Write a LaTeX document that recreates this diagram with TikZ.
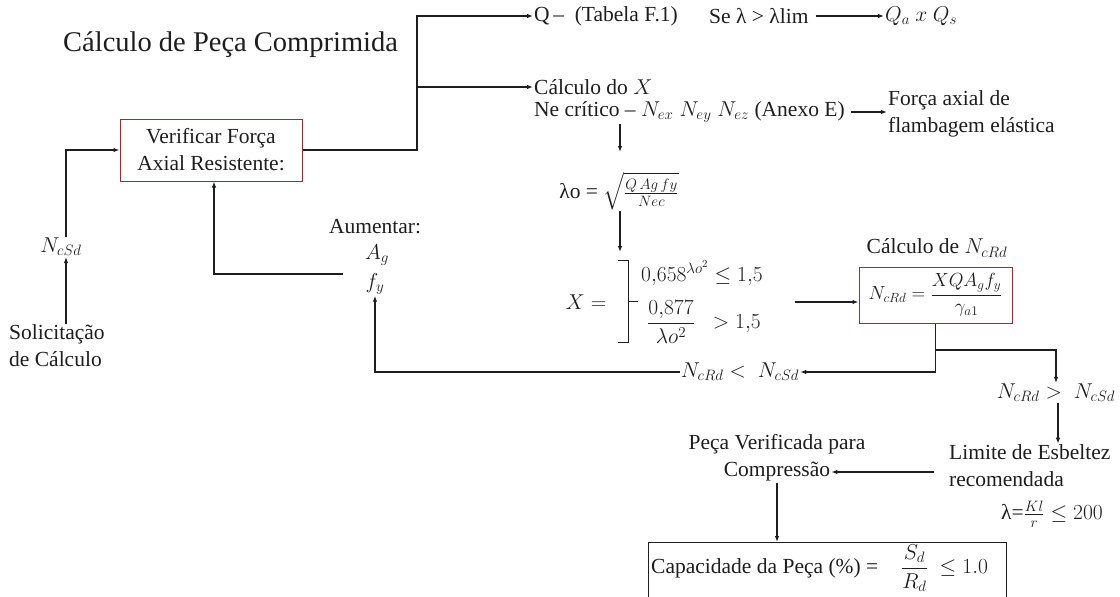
\documentclass[tikz,border=0pt]{standalone}
\usepackage{fix-cm}
\usepackage{amsmath}
\usepackage{fontspec}
\setmainfont{Liberation Serif}
\usetikzlibrary{arrows.meta,calc}
\definecolor{boxred}{RGB}{165,40,45}
\definecolor{ink}{RGB}{30,30,30}
\newcommand{\bodyfont}{\fontsize{21.5}{27}\selectfont}
\begin{document}
\begin{tikzpicture}[x=1pt,y=-1pt,
  txt/.style={inner sep=1pt,font=\bodyfont,align=center,text=ink},
  arr/.style={draw=ink,line width=1.1pt,-{Latex[length=6pt,width=4.5pt]}},
  ln/.style={draw=ink,line width=1.1pt},
  redbox/.style={txt,draw=boxred,line width=1pt},
]
\path[use as bounding box] (0,0) rectangle (1120,597);
\clip (0,0) rectangle (1120,597);
\fill[white] (0,0) rectangle (1120,597);

% nodes
\node[txt,anchor=west,font=\fontsize{28.5}{34}\selectfont] (title) at (62,45) {Cálculo de Peça Comprimida};
\node[redbox,minimum width=182pt,minimum height=62pt] (verif) at (211,150) {Verificar Força\\Axial Resistente:};
\node[txt] (ncsd) at (61,247) {$N_{cSd}$};
\node[txt,align=left,anchor=west] (solic) at (8,346) {Solicitação\\de Cálculo};
\node[txt] (aum) at (375,227) {Aumentar:};
\node[txt] (ag) at (377,255) {$A_g$};
\node[txt] (fy) at (375,284) {$f_y$};
\coordinate (aumin) at (343,274);

\node[txt,anchor=west] (q) at (533,16) {Q\,–\ \ (Tabela F.1)};
\node[txt,anchor=west] (se) at (708,16) {Se λ > λlim};
\node[txt,anchor=west] (qa) at (884,16) {$Q_a\ x\ Q_s$};
\node[txt,anchor=west] (calcx) at (533,87) {Cálculo do $X$};
\node[txt,anchor=west] (necrit) at (533,112) {Ne crítico – $N_{ex}\;N_{ey}\;N_{ez}$ (Anexo E)};
\node[txt,anchor=west,align=left] (forca) at (887,114) {Força axial de\\flambagem elástica};
\coordinate (jx) at (417,150);

\node[txt] (lam) at (619,191) {λo = $\sqrt{\frac{Q\,Ag\,fy}{Nec}}$};
\coordinate (lamtop) at (620,152);
\coordinate (xtop) at (620,252);

\node[txt] (xeq) at (586,302) {$X=$};
\coordinate (brc) at (628,301);
\draw[ln,line width=1pt] ($(brc)+(-10,-41)$) -- ($(brc)+(0,-41)$) -- ($(brc)+(0,41)$) -- ($(brc)+(-10,41)$);
\draw[ln,line width=1pt] (brc) -- ++(10,0);
\node[txt,anchor=west] (c1) at (640,273) {$0{,}658^{\lambda o^2}\le 1{,}5$};
\node[txt,anchor=west] (c2) at (646,322) {$\dfrac{0{,}877}{\lambda o^2}\;\;> 1{,}5$};
\coordinate (xout) at (795,302);

\node[txt] (ncrdt) at (937,248) {Cálculo de $N_{cRd}$};
\node[redbox,minimum width=153pt,minimum height=56pt,font=\fontsize{19}{22}\selectfont] (ncrd) at (935.5,295) {$N_{cRd}=\dfrac{XQA_gf_y}{\gamma_{a1}}$};
\node[txt] (lt) at (740,372) {$N_{cRd}<\;N_{cSd}$};
\node[txt] (gt) at (1056,393) {$N_{cRd}>\;N_{cSd}$};
\coordinate (br) at (935.5,350);
\node[txt,anchor=west,align=left] (lim) at (948,466) {Limite de Esbeltez\\recomendada};
\node[txt] (lamr) at (1052,514) {λ=$\frac{Kl}{r}\le 200$};

\node[txt] (peca1) at (777,444) {Peça Verificada para};
\node[txt] (peca2) at (777,472) {Compressão};
\node[draw=ink,line width=1pt,minimum width=358pt,minimum height=80pt,anchor=north west] (cap) at (648,542) {};
\node[txt,anchor=west] (captxt) at (650,568) {Capacidade da Peça (\%) =\hspace{23pt}$\dfrac{S_d}{R_d}\;\le 1.0$};

% connectors
\draw[arr] ([xshift=5pt]ncsd.south |- solic.north) -- ([xshift=5pt]ncsd.south);
\draw[arr] ([xshift=5pt]ncsd.north) |- (verif.west);
\draw[arr] (aumin) -| ([xshift=3pt]verif.south);
\draw[arr] (lt.west) -| (fy.south);
\draw[arr] (verif.east) -- (jx) |- (q.west);
\draw[arr] (jx |- calcx.west) -- (calcx.west);
\draw[arr,shorten <=6pt] (se.east) -- (qa.west);
\draw[arr,shorten <=5pt] (necrit.east) -- (forca.west |- necrit.east);
\draw[arr] (lamtop |- necrit.south) -- (lamtop);
\draw[arr] (lam.south -| xtop) -- (xtop);
\draw[arr] (xout) -- (xout -| ncrd.west);
\draw[arr] (ncrd.south) |- (lt.east);
\draw[arr] (br) -| (gt.north);
\draw[arr] ([xshift=2pt]gt.south) -- ([xshift=2pt]gt.south |- lim.north);
\draw[arr] ([xshift=-14pt]lim.west |- peca2.east) -- (peca2.east);
\draw[arr] (peca2.south) -- (peca2.south |- cap.north);
\end{tikzpicture}
\end{document}
